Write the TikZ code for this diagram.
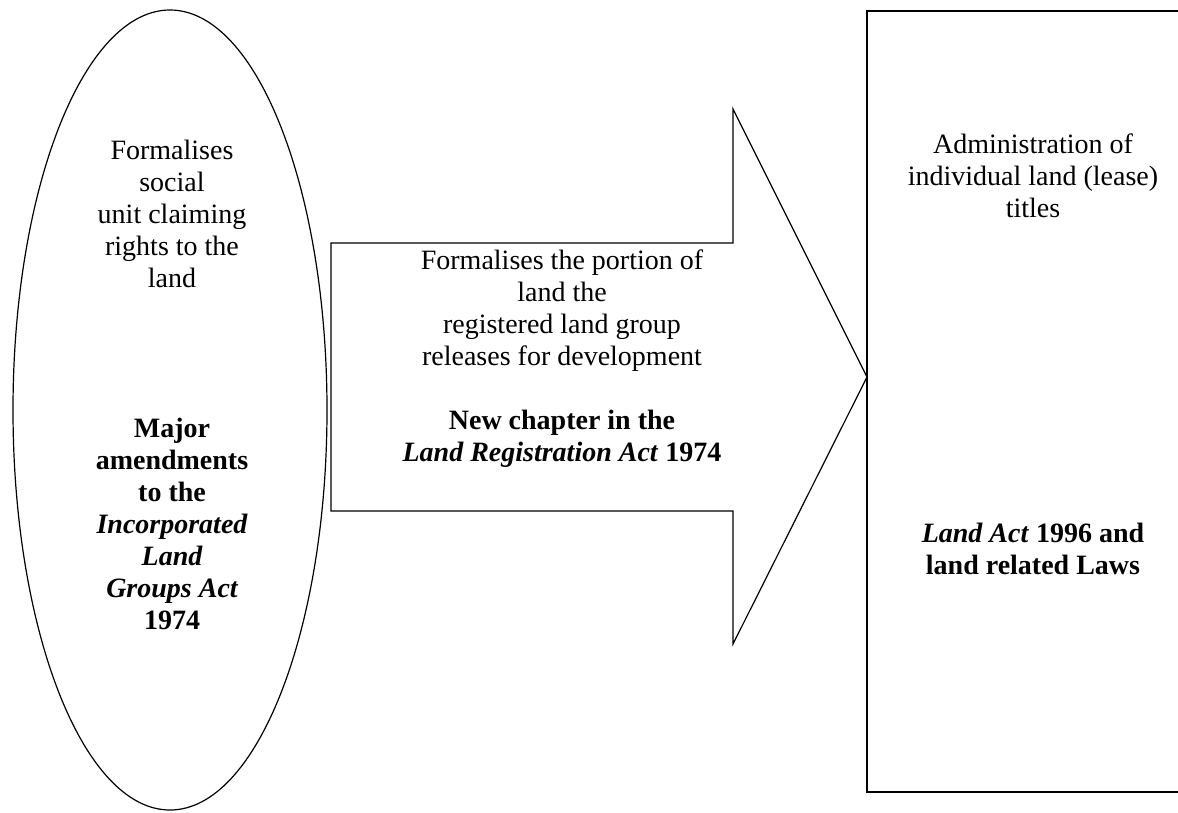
\documentclass[tikz,border=0pt]{standalone}
\usepackage{fontspec}
\setmainfont{Liberation Serif}
\usetikzlibrary{shapes.geometric}
\tikzset{
  shapeline/.style={draw=black, line width=1.2pt, line join=miter},
  txt/.style={align=center, inner sep=0pt, font=\fontsize{28}{32}\selectfont},
}
\begin{document}
\begin{tikzpicture}[x=1pt, y=-1pt]
\useasboundingbox (0,0) rectangle (1178,812);
\clip (0,0) rectangle (1178,812);
% ellipse
\node[ellipse, shapeline, minimum width=314pt, minimum height=800pt, inner sep=0pt] (ell) at (170,410) {};
% block arrow
\coordinate (a1) at (331,243);
\coordinate (a2) at (733,243);
\coordinate (a3) at (733,109);
\coordinate (tip) at (867,377);
\coordinate (a5) at (733,644);
\coordinate (a6) at (733,511);
\coordinate (a7) at (331,511);
\draw[shapeline] (a1) -- (a2) -- (a3) -- (tip) -- (a5) -- (a6) -- (a7) -- cycle;
% rectangle (cut off at the right edge)
\coordinate (r1) at (1190,11);
\coordinate (r2) at (867,11);
\coordinate (r3) at (867,792);
\coordinate (r4) at (1190,792);
\draw[shapeline] (r1) -- (r2) -- (r3) -- (r4);
% texts
\node[txt, anchor=north] (t1) at (172,140) {Formalises\\social\\unit claiming\\rights to the\\land};
\node[txt, anchor=north] (t2) at (172,418) {\bfseries Major\\\bfseries amendments\\\bfseries to the\\\bfseries\itshape Incorporated\\\bfseries\itshape Land\\\bfseries\itshape Groups Act\\\bfseries 1974};
\node[txt, anchor=north] (t3) at (562,250) {Formalises the portion of\\land the\\registered land group\\releases for development};
\node[txt, anchor=north] (t4) at (562,410) {\bfseries New chapter in the\\\bfseries\textit{Land Registration Act} 1974};
\node[txt, anchor=north] (t5) at (1033,134) {Administration of\\individual land (lease)\\titles};
\node[txt, anchor=north] (t6) at (1033,523) {\bfseries\textit{Land Act} 1996 and\\\bfseries land related Laws};
\end{tikzpicture}
\end{document}
